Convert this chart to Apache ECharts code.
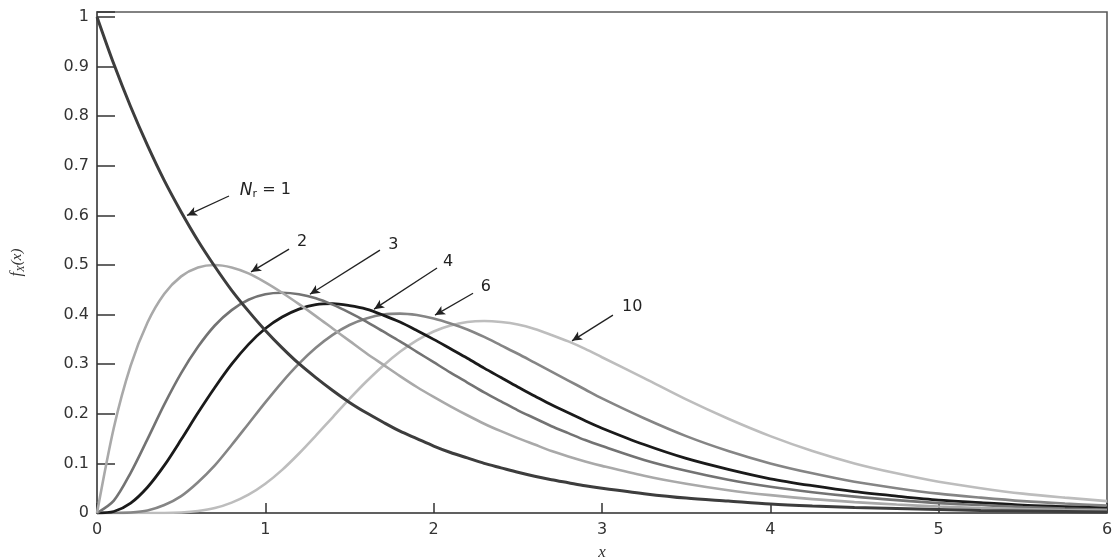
<!DOCTYPE html>
<html>
<head>
<meta charset="utf-8">
<script src="https://cdn.jsdelivr.net/npm/echarts@6/dist/echarts.min.js"></script>
<style>
  html, body { margin: 0; padding: 0; background: #ffffff; }
  #chart { width: 1113px; height: 558px; }
</style>
</head>
<body>
<div id="chart"></div>
<script>
// Sample positions along x
const xs = [0, 0.1, 0.2, 0.3, 0.4, 0.5, 0.6, 0.7, 0.8, 0.9,
            1.0, 1.1, 1.2, 1.3, 1.4, 1.5, 1.6, 1.7, 1.8, 1.9,
            2.0, 2.1, 2.2, 2.3, 2.4, 2.5, 2.6, 2.7, 2.8, 2.9,
            3.0, 3.25, 3.5, 3.75, 4.0, 4.25, 4.5, 4.75, 5.0, 5.25, 5.5, 5.75, 6.0];

// Density values f_X(x) for each number of branches N_r
const n1  = [1.000, 0.905, 0.819, 0.741, 0.670, 0.607, 0.549, 0.497, 0.449, 0.407,
             0.368, 0.333, 0.301, 0.273, 0.247, 0.223, 0.202, 0.183, 0.165, 0.150,
             0.135, 0.122, 0.111, 0.100, 0.091, 0.082, 0.074, 0.067, 0.061, 0.055,
             0.050, 0.039, 0.030, 0.024, 0.018, 0.014, 0.011, 0.009, 0.007, 0.005, 0.004, 0.003, 0.002];
const n2  = [0.000, 0.172, 0.297, 0.384, 0.442, 0.477, 0.495, 0.500, 0.495, 0.483,
             0.465, 0.444, 0.421, 0.397, 0.372, 0.347, 0.322, 0.299, 0.276, 0.254,
             0.234, 0.215, 0.197, 0.180, 0.165, 0.151, 0.138, 0.125, 0.114, 0.104,
             0.095, 0.075, 0.059, 0.046, 0.036, 0.028, 0.022, 0.017, 0.013, 0.010, 0.008, 0.006, 0.005];
const n3  = [0.000, 0.025, 0.081, 0.149, 0.219, 0.282, 0.335, 0.378, 0.409, 0.430,
             0.441, 0.444, 0.441, 0.433, 0.420, 0.404, 0.386, 0.366, 0.346, 0.325,
             0.304, 0.283, 0.263, 0.243, 0.225, 0.207, 0.191, 0.175, 0.161, 0.147,
             0.135, 0.107, 0.085, 0.067, 0.053, 0.042, 0.033, 0.026, 0.020, 0.016, 0.012, 0.009, 0.007];
const n4  = [0.000, 0.003, 0.020, 0.052, 0.096, 0.148, 0.202, 0.253, 0.300, 0.340,
             0.372, 0.395, 0.411, 0.420, 0.422, 0.418, 0.411, 0.399, 0.385, 0.368,
             0.350, 0.331, 0.312, 0.292, 0.273, 0.254, 0.236, 0.218, 0.202, 0.186,
             0.171, 0.138, 0.110, 0.088, 0.069, 0.055, 0.043, 0.034, 0.026, 0.021, 0.016, 0.013, 0.010];
const n6  = [0.000, 0.000, 0.001, 0.005, 0.016, 0.034, 0.062, 0.096, 0.137, 0.180,
             0.223, 0.264, 0.301, 0.333, 0.359, 0.379, 0.392, 0.400, 0.402, 0.399,
             0.392, 0.382, 0.370, 0.355, 0.338, 0.321, 0.303, 0.285, 0.267, 0.249,
             0.231, 0.191, 0.155, 0.125, 0.100, 0.080, 0.063, 0.050, 0.039, 0.031, 0.024, 0.019, 0.015];
const n10 = [0.000, 0.000, 0.000, 0.000, 0.000, 0.001, 0.004, 0.010, 0.021, 0.037,
             0.059, 0.087, 0.120, 0.156, 0.193, 0.230, 0.265, 0.297, 0.325, 0.348,
             0.366, 0.378, 0.385, 0.387, 0.385, 0.380, 0.371, 0.359, 0.346, 0.331,
             0.314, 0.272, 0.229, 0.190, 0.155, 0.125, 0.100, 0.080, 0.063, 0.050, 0.039, 0.031, 0.024];

// Axis tick labels
const xTicks = ['0', '1', '2', '3', '4', '5', '6'];

const chart = echarts.init(document.getElementById('chart'), null, { renderer: 'canvas' });

const tickFont = 'DejaVu Sans';
const inkColor = '#222';

function pairs(vals) { return xs.map((x, i) => [x, vals[i]]); }

// Curve callout: arrow from label to curve, plus label text
function callout(from, to, textPos, text) {
  return {
    markLine: {
      silent: true,
      animation: false,
      symbol: ['none', 'arrow'],
      symbolSize: [7, 10],
      lineStyle: { color: inkColor, width: 1.3, type: 'solid' },
      label: { show: false },
      emphasis: { disabled: true },
      data: [[{ coord: from }, { coord: to }]]
    },
    markPoint: {
      silent: true,
      animation: false,
      symbol: 'circle',
      symbolSize: 1,
      itemStyle: { color: 'rgba(0,0,0,0)' },
      label: {
        show: true,
        position: 'inside',
        color: inkColor,
        fontFamily: tickFont,
        fontSize: 16,
        formatter: text,
        rich: {
          n: { fontFamily: tickFont, fontStyle: 'italic', fontSize: 17, color: inkColor, lineHeight: 20, verticalAlign: 'middle' },
          s: { fontFamily: tickFont, fontSize: 11, color: inkColor, lineHeight: 20, verticalAlign: 'bottom', padding: [6, 0, 0, 0] },
          t: { fontFamily: tickFont, fontSize: 16, color: inkColor, lineHeight: 20, verticalAlign: 'middle' }
        }
      },
      data: [{ coord: textPos }]
    }
  };
}

function curve(name, vals, color, width, extra) {
  return Object.assign({
    name: name,
    type: 'line',
    data: pairs(vals),
    smooth: 0.3,
    showSymbol: false,
    symbol: 'none',
    animation: false,
    lineStyle: { color: color, width: width },
    itemStyle: { color: color },
    emphasis: { disabled: true }
  }, extra);
}

const option = {
  backgroundColor: '#ffffff',
  animation: false,
  grid: {
    left: 97, right: 6, top: 12, bottom: 45,
    containLabel: false,
    outerBoundsMode: 'none',
    show: true,
    borderColor: '#5a5a5a',
    borderWidth: 1.6,
    backgroundColor: 'transparent'
  },
  xAxis: {
    type: 'value',
    min: 0, max: 6, interval: 1,
    name: 'x',
    nameLocation: 'middle',
    nameGap: 31,
    nameTextStyle: { fontFamily: 'Liberation Serif', fontStyle: 'italic', fontSize: 17, color: '#333' },
    axisLine: { show: true, lineStyle: { color: '#555', width: 1.6 } },
    axisTick: { show: true, inside: true, length: 10, lineStyle: { color: '#333', width: 1.5 } },
    axisLabel: {
      color: '#333', fontFamily: tickFont, fontSize: 16, margin: 9,
      formatter: v => xTicks[Math.round(v)] ?? ''
    },
    splitLine: { show: false }
  },
  yAxis: {
    type: 'value',
    min: 0, max: 1.01, interval: 0.1,
    name: '{f|f}{s|X}{p|(x)}',
    nameLocation: 'middle',
    nameGap: 70,
    nameRotate: 90,
    nameTextStyle: {
      color: '#333',
      rich: {
        f: { fontFamily: 'Liberation Serif', fontStyle: 'italic', fontSize: 16, color: '#333', lineHeight: 20, verticalAlign: 'middle' },
        s: { fontFamily: 'Liberation Serif', fontStyle: 'italic', fontSize: 11, color: '#333', lineHeight: 20, verticalAlign: 'bottom', padding: [5, 0, 0, 0] },
        p: { fontFamily: 'Liberation Serif', fontStyle: 'italic', fontSize: 15, color: '#333', lineHeight: 20, verticalAlign: 'middle' }
      }
    },
    axisLine: { show: true, lineStyle: { color: '#555', width: 1.6 } },
    axisTick: { show: true, inside: true, length: 18, lineStyle: { color: '#333', width: 1.5 } },
    axisLabel: {
      color: '#333', fontFamily: tickFont, fontSize: 16, margin: 8,
      formatter: v => {
        const k = Math.round(v * 10);
        if (Math.abs(v * 10 - k) > 1e-6) return '';
        return k === 10 ? '1' : (k === 0 ? '0' : (k / 10).toFixed(1));
      }
    },
    splitLine: { show: false }
  },
  series: [
    curve('N=10', n10, '#bdbdbd', 2.6, callout([3.065, 0.399], [2.822, 0.347], [3.18, 0.415], '{t|10}')),
    curve('N=6',  n6,  '#858585', 2.6, callout([2.234, 0.443], [2.008, 0.399], [2.31, 0.456], '{t|6}')),
    curve('N=4',  n4,  '#1a1a1a', 2.8, callout([2.020, 0.494], [1.646, 0.411], [2.085, 0.506], '{t|4}')),
    curve('N=3',  n3,  '#737373', 2.6, callout([1.681, 0.530], [1.265, 0.441], [1.76, 0.540], '{t|3}')),
    curve('N=2',  n2,  '#a9a9a9', 2.6, callout([1.141, 0.532], [0.915, 0.486], [1.218, 0.546], '{t|2}')),
    curve('N=1',  n1,  '#3d3d3d', 3.0, callout([0.784, 0.639], [0.535, 0.600], [1.0, 0.651], '{n|N}{s|r}{t| = 1}'))
  ]
};

chart.setOption(option);
</script>
</body>
</html>
